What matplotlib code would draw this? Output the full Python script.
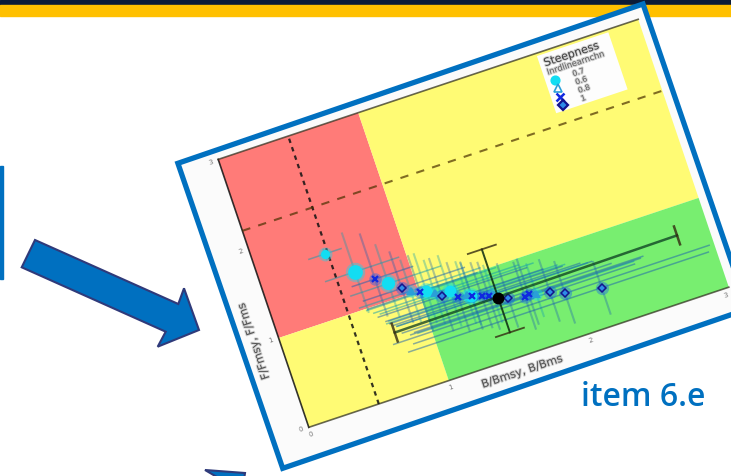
import matplotlib
matplotlib.use('Agg')
import matplotlib.pyplot as plt
import matplotlib.patheffects as pe
from matplotlib.transforms import Affine2D
from matplotlib.patches import Polygon, Rectangle

# Values, axes are B/Bmsy and F/Fmsy
x_ticks = [0, 1, 2, 3]
y_ticks = [0, 1, 2, 3]
b_limit = 0.5
f_limit = 2.2

# steepness 0.7
s07_x = [0.48, 0.634, 0.823, 1.05, 1.20, 1.33]
s07_y = [1.69, 1.41, 1.18, 0.98, 0.90, 0.78]
s07_xlo = [0.36, 0.42, 0.55, 0.62, 0.70, 0.72]
s07_xhi = [0.60, 0.95, 1.20, 1.55, 1.80, 2.00]
s07_ylo = [1.62, 0.95, 0.80, 0.62, 0.50, 0.45]
s07_yhi = [1.75, 1.85, 1.62, 1.40, 1.30, 1.15]
s07_size = [5, 9, 8, 7, 7, 7]

# steepness 0.6
s06_x = [0.95, 1.10, 1.30, 1.47, 1.75]
s06_y = [1.03, 0.93, 0.80, 0.72, 0.58]
s06_xlo = [0.58, 0.66, 0.74, 0.78, 0.90]
s06_xhi = [1.45, 1.70, 1.95, 2.15, 2.45]
s06_ylo = [0.68, 0.58, 0.48, 0.40, 0.32]
s06_yhi = [1.38, 1.30, 1.18, 1.05, 0.92]

# steepness 0.8
s08_x = [0.747, 1.008, 1.242, 1.33, 1.395, 1.44, 1.671, 1.70]
s08_y = [1.27, 0.991, 0.806, 0.77, 0.741, 0.72, 0.588, 0.60]
s08_xlo = [0.58, 0.63, 0.72, 0.74, 0.76, 0.78, 0.85, 0.88]
s08_xhi = [1.02, 1.42, 1.85, 1.98, 2.10, 2.18, 2.50, 2.52]
s08_ylo = [0.85, 0.55, 0.42, 0.40, 0.38, 0.34, 0.22, 0.26]
s08_yhi = [1.78, 1.40, 1.20, 1.16, 1.12, 1.10, 0.98, 1.00]

# steepness 1
s10_x = [0.898, 1.138, 1.562, 1.841, 1.935, 2.183]
s10_y = [1.087, 0.875, 0.634, 0.549, 0.488, 0.422]
s10_xlo = [0.62, 0.68, 0.80, 0.72, 0.85, 0.80]
s10_xhi = [1.35, 1.75, 2.30, 2.45, 2.97, 2.95]
s10_ylo = [0.70, 0.48, 0.30, 0.22, 0.15, 0.12]
s10_yhi = [1.50, 1.30, 1.02, 0.92, 0.85, 0.72]

# base case with caps
base_x = 1.497
base_y = 0.665
base_xlo = 0.757
base_xhi = 2.78
base_ylo = 0.28
base_yhi = 1.21

legend_labels = ['0.7', '0.6', '0.8', '1']

fig = plt.figure(figsize=(7.31, 4.76), dpi=100)
ax = fig.add_axes([0, 0, 1, 1])
ax.set_xlim(0, 731)
ax.set_ylim(476, 0)
ax.axis('off')

# the chart is a picture pasted on the slide turned by about 18 degrees
chart = Affine2D.from_values(140, -46.7, -30.2, -89.3, 308.8, 427.3) + ax.transData
angle = 18.4
soft = [pe.withStroke(linewidth=1.5, foreground='#8A8A8A', alpha=0.35)]

# slide furniture
ax.add_patch(Rectangle((0, 0), 731, 4.5, color='#0B1B38', zorder=1))
ax.add_patch(Rectangle((0, 4.5), 731, 11, color='#FFC000', zorder=1))
ax.add_patch(Rectangle((0, 166), 3, 113, color='#0070C0', zorder=1))
ax.add_patch(Polygon([(35, 240), (178.3, 304), (184, 288.3), (199, 330), (157.7, 346.7),
                      (165.7, 331.7), (21.7, 267.3)],
                     fc='#0070C0', ec='#2F3A7A', lw=1.5, zorder=2))
ax.add_patch(Polygon([(205, 470), (245, 473), (244, 480), (222, 480)],
                     fc='#0070C0', ec='#2F3A7A', lw=1.5, zorder=2))

# white picture and its blue frame
ax.add_patch(Polygon([(177.9, 163.3), (643, 4), (747.7, 309), (282.7, 468.3)],
                     fc='#FBFBFB', ec='#0070C0', lw=3.8, joinstyle='miter', zorder=3))

# stock status zones
ax.add_patch(Rectangle((0, 1), 1, 2, fc='#FF7B78', ec='none', transform=chart, zorder=4))
ax.add_patch(Rectangle((1, 1), 2, 2, fc='#FFFB74', ec='none', transform=chart, zorder=4))
ax.add_patch(Rectangle((0, 0), 1, 1, fc='#FFFB74', ec='none', transform=chart, zorder=4))
ax.add_patch(Rectangle((1, 0), 2, 1, fc='#78EE70', ec='none', transform=chart, zorder=4))

ax.plot([0, 0], [0, 3], color='#111111', lw=1.2, alpha=0.85, transform=chart, zorder=5)
ax.plot([0, 3], [0, 0], color='#333322', lw=1.2, alpha=0.75, transform=chart, zorder=5)
ax.plot([0, 3], [3, 3], color='#333322', lw=1.2, alpha=0.75, transform=chart, zorder=5)

ax.plot([b_limit, b_limit], [0, 3], color='#111111', lw=1.6, ls=(0, (2, 2)), alpha=0.85,
        transform=chart, zorder=5)
ax.plot([0, 3], [f_limit, f_limit], color='#4A3000', lw=1.5, ls=(0, (4, 4)), alpha=0.7,
        transform=chart, zorder=5)

# error bars of all the runs
groups = [
    (s07_x, s07_y, s07_xlo, s07_xhi, s07_ylo, s07_yhi, '#12DDF2', 'o', s07_size),
    (s06_x, s06_y, s06_xlo, s06_xhi, s06_ylo, s06_yhi, '#2A9FD8', '^', [4] * len(s06_x)),
    (s08_x, s08_y, s08_xlo, s08_xhi, s08_ylo, s08_yhi, '#1028E0', 'x', [4] * len(s08_x)),
    (s10_x, s10_y, s10_xlo, s10_xhi, s10_ylo, s10_yhi, '#14148C', 'D', [4.5] * len(s10_x)),
]
for gx, gy, xlo, xhi, ylo, yhi, col, mk, ms in groups:
    line_col = '#109CB0' if mk in ('o', '^') else '#1A5FB0'
    ax.hlines(gy, xlo, xhi, color=line_col, lw=1.1, alpha=0.5, transform=chart, zorder=6)
    ax.vlines(gx, ylo, yhi, color=line_col, lw=1.5, alpha=0.35, transform=chart, zorder=6)

for gx, gy, xlo, xhi, ylo, yhi, col, mk, ms in groups:
    halo = '#10D8F4' if mk in ('o', '^') else '#1460F0'
    for px, py, size in zip(gx, gy, ms):
        ax.plot(px, py, ls='none', marker='o', ms=size + 5, color=halo, alpha=0.4, mec='none',
                transform=chart, zorder=7)
        if mk == 'D':
            ax.plot(px, py, ls='none', marker=mk, ms=size, mfc='#2E8CE8', mec=col, mew=1.1,
                    transform=chart, zorder=8)
        else:
            ax.plot(px, py, ls='none', marker=mk, ms=size, color=col, mew=1.6,
                    transform=chart, zorder=8)

ax.plot([base_x, base_x], [base_ylo, base_yhi], color='#0A2A10', lw=1.4, alpha=0.85,
        transform=chart, zorder=9)
ax.plot([base_xlo, base_xhi], [base_y, base_y + 0.03], color='#0A3A20', lw=1.8, alpha=0.75,
        transform=chart, zorder=9)
for cap_y in [base_ylo, base_yhi]:
    ax.plot([base_x - 0.1, base_x + 0.1], [cap_y, cap_y], color='#332A10', lw=1.3, alpha=0.8,
            transform=chart, zorder=9)
for cap_x, cap_y in [(base_xlo, base_y), (base_xhi, base_y + 0.03)]:
    ax.plot([cap_x, cap_x], [cap_y - 0.1, cap_y + 0.1], color='#332A10', lw=1.8, alpha=0.8,
            transform=chart, zorder=9)
ax.plot(base_x, base_y, ls='none', marker='o', ms=7.5, color='black', transform=chart, zorder=10)

# tick labels and axis titles, the last x label sits right at the slide edge
tick_style = dict(color='#777777', fontsize=5, ha='center', va='center', transform=chart, zorder=6)
for t in x_ticks:
    ax.text(min(t, 2.965), -0.075, str(t), rotation=angle, **tick_style)
for t in y_ticks:
    ax.text(-0.055, t, str(t), rotation=angle, **tick_style)
ax.text(1.49, -0.157, 'B/Bmsy, B/Bms', rotation=angle, rotation_mode='anchor', color='#555555',
        fontsize=8, ha='center', va='center', path_effects=soft, transform=chart, zorder=6)
ax.text(-0.165, 1.05, 'F/Fmsy, F/Fms', rotation=90 + angle, rotation_mode='anchor', color='#555555',
        fontsize=8, ha='center', va='center', path_effects=soft, transform=chart, zorder=6)

# legend box, turned with the chart
ax.add_patch(Rectangle((2.27, 2.33), 0.51, 0.64, fc='#FDFDFD', ec='none', transform=chart, zorder=6))
ax.text(2.30, 2.87, 'Steepness', rotation=angle, rotation_mode='anchor', color='#444444', fontsize=8,
        ha='left', va='center', path_effects=soft, transform=chart, zorder=7)
ax.text(2.30, 2.77, 'lnrdlinearnchn', rotation=angle, rotation_mode='anchor', color='#666666', fontsize=6,
        ha='left', va='center', path_effects=soft, transform=chart, zorder=7)
for i, label in enumerate(legend_labels):
    row_y = 2.67 - i * 0.093
    col = groups[i][6]
    if groups[i][7] == 'D':
        ax.plot(2.333, row_y, ls='none', marker='D', ms=5, mfc='#2E8CE8', mec=col, mew=1.6,
                transform=chart, zorder=8)
    elif groups[i][7] == '^':
        ax.plot(2.333, row_y, ls='none', marker='^', ms=5.5, mfc='none', mec=col, mew=1.2,
                transform=chart, zorder=8)
    else:
        ax.plot(2.333, row_y, ls='none', marker=groups[i][7], ms=5.5, color=col, mew=1.8,
                transform=chart, zorder=8)
    ax.text(2.46, row_y, label, rotation=angle, rotation_mode='anchor', color='#666666', fontsize=5.5,
            ha='left', va='center', path_effects=soft, transform=chart, zorder=7)

ax.text(581, 406.5, 'item 6.e', color='#0070C0', fontsize=23, family='Open Sans', weight='semibold',
        ha='left', va='baseline', zorder=11)

fig.savefig('out.png', dpi=100)
